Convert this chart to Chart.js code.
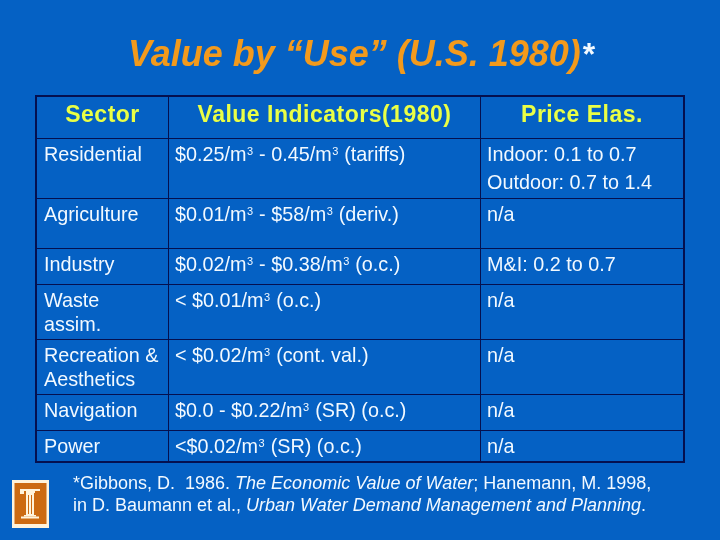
<!DOCTYPE html>
<html><head><meta charset="utf-8">
<script src="https://cdn.jsdelivr.net/npm/chart.js@4"></script>
<style>html,body{margin:0;padding:0;background:#0561c4}canvas{display:block}</style>
</head><body><div style="width:720px;height:540px"><canvas id="c"></canvas></div>
<script>
const titleText = "Value by \u201cUse\u201d (U.S. 1980)";
const headers = ["Sector", "Value Indicators(1980)", "Price Elas."];
// ^3 marks a superscript 3
const sectors = [["Residential"], ["Agriculture"], ["Industry"], ["Waste", "assim."], ["Recreation &", "Aesthetics"], ["Navigation"], ["Power"]];
const indicators = ["$0.25/m^3 - 0.45/m^3 (tariffs)", "$0.01/m^3 - $58/m^3 (deriv.)", "$0.02/m^3 - $0.38/m^3 (o.c.)", "< $0.01/m^3 (o.c.)", "< $0.02/m^3 (cont. val.)", "$0.0 - $0.22/m^3 (SR) (o.c.)", "<$0.02/m^3 (SR) (o.c.)"];
const elasticities = [["Indoor: 0.1 to 0.7", "Outdoor: 0.7 to 1.4"], ["n/a"], ["M&I: 0.2 to 0.7"], ["n/a"], ["n/a"], ["n/a"], ["n/a"]];
const columnEdges = [36, 168, 480, 684];
const rowEdges = [96, 138, 198, 248, 284, 339, 394, 430, 462];
const footLine1 = [["*Gibbons, D.  1986. ", false], ["The Economic Value of Water", true], ["; Hanemann, M. 1998,", false]];
const footLine2 = [["in D. Baumann et al., ", false], ["Urban Water Demand Management and Planning", true], [".", false]];

const WHITE = "#f2f9ff", YELLOW = "#eaff45", ORANGE = "#f39a1c", LINE = "#05104f", BG = "#0561c4";
const FONT = '"Liberation Sans", Arial, sans-serif';

function drawRich(ctx, s, x, y, size) {
  const parts = s.split("^3");
  parts.forEach((p, i) => {
    ctx.font = size + "px " + FONT;
    ctx.fillText(p, x, y);
    x += ctx.measureText(p).width;
    if (i < parts.length - 1) {
      ctx.font = "11px " + FONT;
      ctx.fillText("3", x + 0.5, y - 6);
      x += ctx.measureText("3").width + 1;
    }
  });
}
function drawRuns(ctx, runs, x, y, size) {
  runs.forEach(([t, it]) => {
    ctx.font = (it ? "italic " : "") + size + "px " + FONT;
    ctx.fillText(t, x, y);
    x += ctx.measureText(t).width;
  });
}
function drawLogo(ctx) {
  const cream = "#fff3dc", orange = "#cc6a12";
  ctx.fillStyle = cream; ctx.fillRect(12, 480, 37, 48);
  ctx.fillStyle = orange; ctx.fillRect(14.5, 483, 32, 41);
  ctx.fillStyle = cream;
  ctx.fillRect(20, 489, 20, 2);
  ctx.fillRect(20, 491, 4, 3);
  ctx.fillRect(26, 491, 9, 2);
  ctx.fillRect(26, 493, 8, 22);
  ctx.fillRect(24, 515, 12, 1.5);
  ctx.fillRect(21, 516.5, 18, 2);
  ctx.fillStyle = orange; ctx.fillRect(28, 495, 1, 19); ctx.fillRect(31, 495, 1, 19);
}
const tablePlugin = {
  id: "table",
  afterDraw(chart) {
    const ctx = chart.ctx, xs = chart.scales.x, ys = chart.scales.y;
    ctx.save();
    // heavy outer frame
    ctx.strokeStyle = LINE; ctx.lineWidth = 2;
    ctx.strokeRect(xs.left, ys.top, xs.right - xs.left, ys.bottom - ys.top);
    ctx.textBaseline = "alphabetic";
    ctx.textAlign = "left";
    // title
    ctx.fillStyle = ORANGE;
    ctx.font = "italic bold 36px " + FONT;
    const tw = ctx.measureText(titleText).width;
    const tx = 128;
    ctx.fillText(titleText, tx, 65.5);
    ctx.fillStyle = WHITE;
    ctx.font = "bold 32px " + FONT;
    ctx.fillText("*", tx + tw + 2, 65);
    // header
    ctx.fillStyle = YELLOW;
    ctx.font = "bold 23px " + FONT;
    ctx.letterSpacing = "0.5px";
    ctx.textAlign = "center";
    const hx = [102.5, 324.5, 582];
    headers.forEach((h, i) => ctx.fillText(h, hx[i], 122));
    ctx.letterSpacing = "0px";
    // cells
    ctx.textAlign = "left";
    ctx.fillStyle = WHITE;
    const size = 19.8;
    const lineGap = 24;
    sectors.forEach((lines, r) => {
      const base = ys.getPixelForValue(rowEdges[r + 1]) + 23;
      lines.forEach((l, k) => drawRich(ctx, l, xs.getPixelForValue(columnEdges[0]) + 8, base + k * lineGap, size));
      drawRich(ctx, indicators[r], xs.getPixelForValue(columnEdges[1]) + 7, base, size);
      elasticities[r].forEach((l, k) => drawRich(ctx, l, xs.getPixelForValue(columnEdges[2]) + 7, base + k * 28, size));
    });
    // footnote
    drawRuns(ctx, footLine1, 73, 488.5, 18);
    drawRuns(ctx, footLine2, 73, 510.5, 18);
    drawLogo(ctx);
    ctx.restore();
  }
};
new Chart(document.getElementById("c"), {
  type: "scatter",
  data: { datasets: [{ data: [], pointRadius: 0 }] },
  options: {
    responsive: true, maintainAspectRatio: false, animation: false,
    layout: { padding: { left: columnEdges[0], right: 720 - columnEdges[3], top: rowEdges[0], bottom: 540 - rowEdges[8] } },
    plugins: { legend: { display: false }, tooltip: { enabled: false } },
    scales: {
      x: { type: "linear", min: columnEdges[0], max: columnEdges[3], border: { display: false },
        afterBuildTicks: s => { s.ticks = columnEdges.map(v => ({ value: v })); },
        ticks: { display: false }, grid: { color: LINE, lineWidth: 1, drawTicks: false } },
      y: { type: "linear", reverse: true, min: rowEdges[0], max: rowEdges[8], border: { display: false },
        afterBuildTicks: s => { s.ticks = rowEdges.map(v => ({ value: v })); },
        ticks: { display: false }, grid: { color: LINE, lineWidth: 1, drawTicks: false } }
    }
  },
  plugins: [{ id: "bg", beforeDraw(c) { c.ctx.save(); c.ctx.fillStyle = BG; c.ctx.fillRect(0, 0, c.width, c.height); c.ctx.restore(); } }, tablePlugin]
});
</script></body></html>
